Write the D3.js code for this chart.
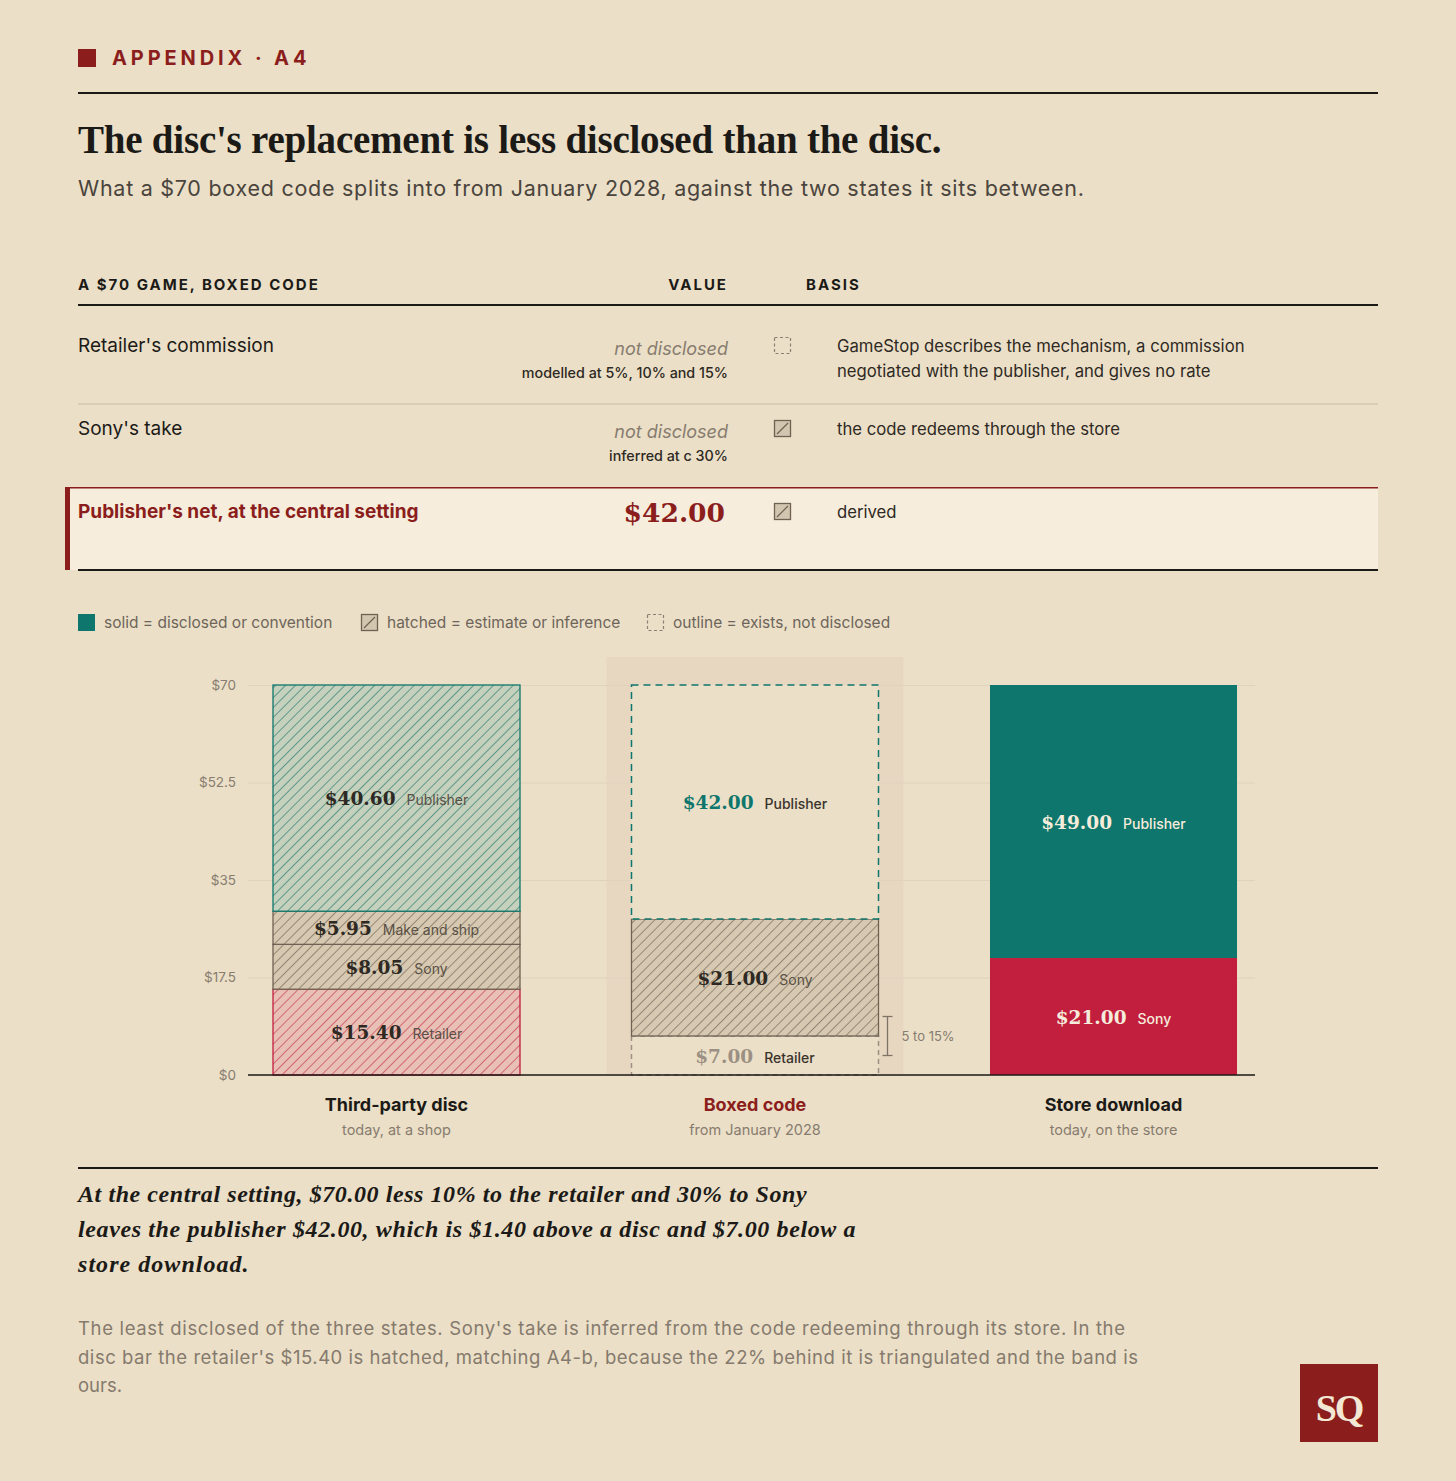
<!DOCTYPE html>
<html>
<head>
<meta charset="utf-8">
<script src="https://cdn.jsdelivr.net/npm/d3@7"></script>
<style>
html, body { margin: 0; padding: 0; background: #ebdfc7; }
svg { display: block; }
</style>
</head>
<body>
<script>
// ---- data ----
var barNames = ["Third-party disc", "Boxed code", "Store download"];
var barNotes = ["today, at a shop", "from January 2028", "today, on the store"];
// segments stacked from the bottom up
var segNames = [
	["Retailer", "Sony", "Make and ship", "Publisher"],
	["Retailer", "Sony", "Publisher"],
	["Sony", "Publisher"]
];
var segValues = [
	[15.40, 8.05, 5.95, 40.60],
	[7.00, 21.00, 42.00],
	[21.00, 49.00]
];
// disclosure status of each segment: solid / hatched / outline
var segBasis = [
	["hatched", "hatched", "hatched", "hatched"],
	["outline", "hatched", "outline"],
	["solid", "solid"]
];
// who the money goes to, drives the tone
var segRole = [
	["retail", "platform", "cost", "publisher"],
	["retail", "platform", "publisher"],
	["retail", "publisher"]
];
var yTicks = [0, 17.5, 35, 52.5, 70];
var yTickLabels = ["$0", "$17.5", "$35", "$52.5", "$70"];
var price = 70;
var retailerRange = [5, 15]; // percent, boxed code
var highlightBar = 1;

var tableHead = ["A $70 GAME, BOXED CODE", "VALUE", "BASIS"];
var tableLabels = ["Retailer's commission", "Sony's take", "Publisher's net, at the central setting"];
var tableValues = ["not disclosed", "not disclosed", "$42.00"];
var tableValueNotes = ["modelled at 5%, 10% and 15%", "inferred at c 30%", ""];
var tableIcons = ["outline", "hatched", "hatched"];
var tableBasis = [
	["GameStop describes the mechanism, a commission", "negotiated with the publisher, and gives no rate"],
	["the code redeems through the store"],
	["derived"]
];

var legendKinds = ["solid", "hatched", "outline"];
var legendLabels = ["solid = disclosed or convention", "hatched = estimate or inference", "outline = exists, not disclosed"];

var takeaway = [
	"At the central setting, $70.00 less 10% to the retailer and 30% to Sony",
	"leaves the publisher $42.00, which is $1.40 above a disc and $7.00 below a",
	"store download."
];
var note = [
	"The least disclosed of the three states. Sony's take is inferred from the code redeeming through its store. In the",
	"disc bar the retailer's $15.40 is hatched, matching A4-b, because the 22% behind it is triangulated and the band is",
	"ours."
];

// ---- look ----
var W = 1456, H = 1481;
var C = {
	bg: '#ebdfc7',
	ink: '#1c1a17',
	red: '#8b1e1c',
	teal: '#0e766c',
	crimson: '#c21f3f',
	grey: '#877c6f',
	mid: '#4a443d',
	dark: '#2e2923',
	grid: '#dfd3bd',
	rule: '#c9bda7',
	band: '#e7d7c1',
	rowHi: '#f6eddc',
	cream: '#f5ecdc'
};
var SANS = 'Inter, "Noto Sans", sans-serif';
var SERIF = '"Liberation Serif", "DejaVu Serif", serif';
var NUM = '"DejaVu Serif", "Liberation Serif", serif';
var hatchTone = {
	publisher: { fill: '#c6d1bd', line: '#23796c' },
	platform: { fill: '#d7c9b1', line: '#6f6252' },
	cost: { fill: '#d7c9b1', line: '#6f6252' },
	retail: { fill: '#e8c0b6', line: '#c63a4d' }
};
var solidTone = { publisher: C.teal, retail: C.crimson, platform: C.crimson, cost: C.grey };
var outlineTone = { publisher: C.teal, retail: '#9b9083', platform: '#9b9083', cost: '#9b9083' };

var svg = d3.select('body').append('svg')
	.attr('width', W)
	.attr('height', H);

svg.append('rect').attr('width', W).attr('height', H).attr('fill', C.bg);

var defs = svg.append('defs');
Object.keys(hatchTone).forEach(function (k) {
	var p = defs.append('pattern')
		.attr('id', 'hatch-' + k)
		.attr('patternUnits', 'userSpaceOnUse')
		.attr('width', 7).attr('height', 7)
		.attr('patternTransform', 'rotate(45)');
	p.append('rect').attr('width', 7).attr('height', 7).attr('fill', hatchTone[k].fill);
	p.append('line').attr('x1', 0).attr('y1', 0).attr('x2', 0).attr('y2', 7)
		.attr('stroke', hatchTone[k].line).attr('stroke-width', 1.3);
});

function fitText(sel, len) {
	return sel.attr('textLength', len).attr('lengthAdjust', 'spacing');
}

// small key glyph used in table and legend
function drawIcon(g, kind, x, y) {
	var s = 17;
	if (kind == 'solid') {
		g.append('rect').attr('x', x).attr('y', y).attr('width', s).attr('height', s).attr('fill', C.teal);
	} else if (kind == 'hatched') {
		g.append('rect').attr('x', x + 0.5).attr('y', y + 0.5).attr('width', s - 1).attr('height', s - 1)
			.attr('fill', '#d3c6b0').attr('stroke', '#6f6252').attr('stroke-width', 1.3);
		g.append('line').attr('x1', x + 3).attr('y1', y + s - 3).attr('x2', x + s - 3).attr('y2', y + 3)
			.attr('stroke', '#6f6252').attr('stroke-width', 1.2);
	} else {
		g.append('rect').attr('x', x + 0.5).attr('y', y + 0.5).attr('width', s - 1).attr('height', s - 1)
			.attr('fill', 'none').attr('stroke', '#8a7f72').attr('stroke-width', 1.2)
			.attr('stroke-dasharray', '3,2.5');
	}
}

// ---- header ----
svg.append('rect').attr('x', 78).attr('y', 49).attr('width', 18).attr('height', 18).attr('fill', C.red);
svg.append('text')
	.attr('x', 112).attr('y', 65)
	.attr('font-family', SANS).attr('font-weight', 700).attr('font-size', 20)
	.attr('letter-spacing', 3.9).attr('fill', C.red)
	.text('APPENDIX \u00b7 A4');
svg.append('line').attr('x1', 78).attr('x2', 1378).attr('y1', 93).attr('y2', 93)
	.attr('stroke', C.ink).attr('stroke-width', 2);

fitText(svg.append('text')
	.attr('x', 78).attr('y', 153)
	.attr('font-family', SERIF).attr('font-weight', 700).attr('font-size', 39)
	.attr('letter-spacing', -0.6)
	.attr('fill', C.ink)
	.text("The disc's replacement is less disclosed than the disc."), 863);

fitText(svg.append('text')
	.attr('x', 78).attr('y', 196)
	.attr('font-family', SANS).attr('font-size', 21.5)
	.attr('fill', C.mid)
	.text('What a $70 boxed code splits into from January 2028, against the two states it sits between.'), 1006);

// ---- table ----
var tbl = svg.append('g');
var headX = [78, 728, 806];
var headAnchor = ['start', 'end', 'start'];
for (var i = 0; i < tableHead.length; i++) {
	tbl.append('text').attr('x', headX[i]).attr('y', 290).attr('text-anchor', headAnchor[i])
		.attr('font-family', SANS).attr('font-weight', 700).attr('font-size', 15)
		.attr('letter-spacing', 2).attr('fill', C.ink).text(tableHead[i]);
}
tbl.append('line').attr('x1', 78).attr('x2', 1378).attr('y1', 305).attr('y2', 305)
	.attr('stroke', C.ink).attr('stroke-width', 2);

var rowTop = [305, 404, 487];
var rowBottom = [404, 487, 570];
for (var i = 0; i < tableLabels.length; i++) {
	var rowY = rowTop[i];
	var last = (i == tableLabels.length - 1);
	if (last) {
		tbl.append('rect').attr('x', 65).attr('y', rowY).attr('width', 1313).attr('height', rowBottom[i] - rowY)
			.attr('fill', C.rowHi);
		tbl.append('rect').attr('x', 65).attr('y', rowY).attr('width', 5).attr('height', rowBottom[i] - rowY)
			.attr('fill', C.red);
		tbl.append('line').attr('x1', 70).attr('x2', 1378).attr('y1', rowY + 0.75).attr('y2', rowY + 0.75)
			.attr('stroke', C.red).attr('stroke-width', 1.5);
	} else if (i > 0) {
		tbl.append('line').attr('x1', 78).attr('x2', 1378).attr('y1', rowY).attr('y2', rowY)
			.attr('stroke', C.rule).attr('stroke-width', 1.2);
	}
	var base = rowY + (i == 0 ? 47 : 31);
	tbl.append('text').attr('x', 78).attr('y', base)
		.attr('font-family', SANS).attr('font-size', 19)
		.attr('font-weight', last ? 700 : 400)
		.attr('fill', last ? C.red : C.ink)
		.text(tableLabels[i]);
	if (last) {
		tbl.append('text').attr('x', 725).attr('y', base + 4).attr('text-anchor', 'end')
			.attr('font-family', NUM).attr('font-weight', 700).attr('font-size', 26.5)
			.attr('fill', C.red).text(tableValues[i]);
	} else {
		tbl.append('text').attr('x', 728).attr('y', base + 3).attr('text-anchor', 'end')
			.attr('font-family', SANS).attr('font-style', 'italic').attr('font-size', 18)
			.attr('fill', C.grey).text(tableValues[i]);
		tbl.append('text').attr('x', 728).attr('y', base + 26).attr('text-anchor', 'end')
			.attr('font-family', SANS).attr('font-size', 14.3).attr('font-weight', 500)
			.attr('fill', C.dark).text(tableValueNotes[i]);
	}
	drawIcon(tbl, tableIcons[i], 774, base - 15);
	for (var j = 0; j < tableBasis[i].length; j++) {
		tbl.append('text').attr('x', 837).attr('y', base + j * 25)
			.attr('font-family', SANS).attr('font-size', 16.7)
			.attr('fill', C.dark).text(tableBasis[i][j]);
	}
}
tbl.append('line').attr('x1', 78).attr('x2', 1378).attr('y1', 570).attr('y2', 570)
	.attr('stroke', C.ink).attr('stroke-width', 2);

// ---- legend ----
var legendX = [78, 361, 647];
for (var i = 0; i < legendKinds.length; i++) {
	drawIcon(svg, legendKinds[i], legendX[i], 614);
	svg.append('text').attr('x', legendX[i] + 26).attr('y', 628)
		.attr('font-family', SANS).attr('font-size', 15.5)
		.attr('fill', '#6e655a').text(legendLabels[i]);
}

// ---- chart ----
var y = d3.scaleLinear().domain([0, price]).range([1075, 685]);
var x = d3.scaleBand().domain(d3.range(barNames.length))
	.range([217.25, 1292.75]).paddingInner(0.311).paddingOuter(0.1555);
var bw = x.bandwidth();
var chart = svg.append('g');

// highlighted band behind the boxed-code bar
chart.append('rect')
	.attr('x', x(highlightBar) - 25).attr('y', y(price) - 28)
	.attr('width', bw + 50).attr('height', y(0) - y(price) + 28)
	.attr('fill', C.band);

// grid + ticks
var yAxis = chart.append('g')
	.attr('transform', 'translate(248,0)')
	.call(d3.axisLeft(y).tickValues(yTicks).tickSize(-1007)
		.tickFormat(function (d, i) { return yTickLabels[i]; }));
yAxis.select('.domain').remove();
yAxis.selectAll('.tick line').attr('stroke', C.grid).attr('stroke-width', 1);
yAxis.selectAll('.tick text')
	.attr('x', -12).attr('dy', '0.32em')
	.attr('font-family', SANS).attr('font-size', 13.5).attr('fill', C.grey);

// stacks
for (var b = 0; b < barNames.length; b++) {
	var stack = d3.cumsum(segValues[b]);
	var bg = chart.append('g');
	for (var s = 0; s < segValues[b].length; s++) {
		var v0 = stack[s] - segValues[b][s];
		var v1 = stack[s];
		var role = segRole[b][s];
		var kind = segBasis[b][s];
		var r = bg.append('rect')
			.attr('x', x(b)).attr('y', y(v1))
			.attr('width', bw).attr('height', y(v0) - y(v1));
		if (kind == 'solid') {
			r.attr('fill', solidTone[role]);
		} else if (kind == 'hatched') {
			r.attr('fill', 'url(#hatch-' + role + ')')
				.attr('stroke', role == 'publisher' ? C.teal : (role == 'retail' ? C.crimson : '#6f6252'))
				.attr('stroke-width', 1.3);
		} else {
			r.attr('fill', C.bg)
				.attr('stroke', outlineTone[role]).attr('stroke-width', 1.5)
				.attr('stroke-dasharray', role == 'publisher' ? '7,5' : '5,4');
		}
	}
	// labels on top of all rects
	for (var s = 0; s < segValues[b].length; s++) {
		var v0 = stack[s] - segValues[b][s];
		var v1 = stack[s];
		var role = segRole[b][s];
		var kind = segBasis[b][s];
		var valCol, nameCol;
		if (kind == 'solid') {
			valCol = C.cream; nameCol = C.cream;
		} else if (kind == 'hatched') {
			valCol = C.dark; nameCol = '#5a5046';
		} else {
			valCol = outlineTone[role]; nameCol = '#3a342d';
		}
		var t = bg.append('text')
			.attr('x', x(b) + bw / 2)
			.attr('y', (y(v0) + y(v1)) / 2 + 7)
			.attr('text-anchor', 'middle');
		t.append('tspan')
			.attr('font-family', NUM).attr('font-weight', 700).attr('font-size', 18.5)
			.attr('fill', valCol)
			.text(d3.format('$.2f')(segValues[b][s]));
		t.append('tspan')
			.attr('dx', 11)
			.attr('font-family', SANS).attr('font-size', 14)
			.attr('font-weight', kind == 'hatched' ? 400 : 500)
			.attr('fill', nameCol)
			.text(segNames[b][s]);
	}
	chart.append('text')
		.attr('x', x(b) + bw / 2).attr('y', 1111)
		.attr('text-anchor', 'middle')
		.attr('font-family', SANS).attr('font-weight', 700).attr('font-size', 18)
		.attr('fill', b == highlightBar ? C.red : C.ink)
		.text(barNames[b]);
	chart.append('text')
		.attr('x', x(b) + bw / 2).attr('y', 1135)
		.attr('text-anchor', 'middle')
		.attr('font-family', SANS).attr('font-size', 14.5)
		.attr('fill', C.grey)
		.text(barNotes[b]);
}

// baseline
chart.append('line').attr('x1', 248).attr('x2', 1255).attr('y1', y(0)).attr('y2', y(0))
	.attr('stroke', C.ink).attr('stroke-width', 1.5);

// retailer range on the boxed code bar
var ex = x(highlightBar) + bw + 9;
var eLo = y(price * retailerRange[0] / 100);
var eHi = y(price * retailerRange[1] / 100);
var eg = chart.append('g').attr('stroke', '#7d7264').attr('stroke-width', 1.3);
eg.append('line').attr('x1', ex).attr('x2', ex).attr('y1', eLo).attr('y2', eHi);
eg.append('line').attr('x1', ex - 5).attr('x2', ex + 5).attr('y1', eLo).attr('y2', eLo);
eg.append('line').attr('x1', ex - 5).attr('x2', ex + 5).attr('y1', eHi).attr('y2', eHi);
chart.append('text').attr('x', ex + 14).attr('y', (eLo + eHi) / 2 + 5)
	.attr('font-family', SANS).attr('font-size', 13).attr('fill', C.grey)
	.text(retailerRange[0] + ' to ' + retailerRange[1] + '%');

// ---- footer ----
svg.append('line').attr('x1', 78).attr('x2', 1378).attr('y1', 1168).attr('y2', 1168)
	.attr('stroke', C.ink).attr('stroke-width', 2);
var takeLen = [728, 777, 170];
takeaway.forEach(function (line, i) {
	fitText(svg.append('text')
		.attr('x', 78).attr('y', 1202 + i * 35)
		.attr('font-family', SERIF).attr('font-style', 'italic').attr('font-weight', 700)
		.attr('font-size', 24).attr('letter-spacing', -0.6).attr('fill', C.ink)
		.text(line), takeLen[i]);
});
var noteLen = [1047, 1060, 49];
note.forEach(function (line, i) {
	var t = svg.append('text')
		.attr('x', 78).attr('y', 1335 + i * 28.5)
		.attr('font-family', SANS).attr('font-size', 18.5).attr('fill', '#857a6d')
		.text(line);
	if (i < 2) fitText(t, noteLen[i]);
});

svg.append('rect').attr('x', 1300).attr('y', 1364).attr('width', 78).attr('height', 78).attr('fill', C.red);
svg.append('text').attr('x', 1339).attr('y', 1421).attr('text-anchor', 'middle')
	.attr('font-family', SERIF).attr('font-weight', 700).attr('font-size', 38)
	.attr('letter-spacing', -2).attr('fill', '#f3e8d4').text('SQ');
</script>
</body>
</html>
